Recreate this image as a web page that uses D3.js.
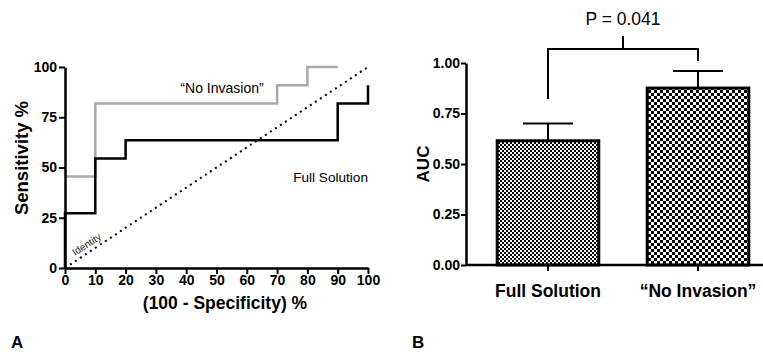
<!DOCTYPE html>
<html>
<head>
<meta charset="utf-8">
<script src="https://cdn.jsdelivr.net/npm/d3@7"></script>
<style>
  body { margin: 0; background: #fff; }
  text { font-family: "Liberation Sans", Arial, sans-serif; }
</style>
</head>
<body>
<div id="chart"></div>
<script>
// ROC curves (x = 100 - specificity, y = sensitivity)
var fullX = [0, 0, 10, 10, 20, 20, 90, 90, 100, 100];
var fullY = [0, 27.3, 27.3, 54.5, 54.5, 63.6, 63.6, 81.8, 81.8, 90.9];
var noInvX = [0, 10, 10, 70, 70, 80, 80, 90];
var noInvY = [45.5, 45.5, 81.8, 81.8, 90.9, 90.9, 100, 100];
var rocTicks = [0, 10, 20, 30, 40, 50, 60, 70, 80, 90, 100];
var sensTicks = [0, 25, 50, 75, 100];

// AUC bars
var groups = ["Full Solution", "\u201cNo Invasion\u201d"];
var auc = [0.615, 0.876];
var aucErr = [0.085, 0.085];
var aucTicks = [0, 0.25, 0.5, 0.75, 1.0];

var svg = d3.select("#chart").append("svg")
  .attr("width", 763)
  .attr("height", 360);

var defs = svg.append("defs");
function checker(id, s) {
  var p = defs.append("pattern")
    .attr("id", id)
    .attr("patternUnits", "userSpaceOnUse")
    .attr("width", s * 2)
    .attr("height", s * 2);
  p.append("rect").attr("width", s * 2).attr("height", s * 2).attr("fill", "#fff");
  p.append("rect").attr("width", s).attr("height", s).attr("fill", "#000");
  p.append("rect").attr("x", s).attr("y", s).attr("width", s).attr("height", s).attr("fill", "#000");
}
checker("fine", 2);
checker("coarse", 3);

// ---------- panel A ----------
var x = d3.scaleLinear().domain([0, 100]).range([65, 368]);
var y = d3.scaleLinear().domain([0, 100]).range([268, 67]);

var line = d3.line().x(d => x(d[0])).y(d => y(d[1]));

svg.append("path")
  .datum(d3.zip(noInvX, noInvY))
  .attr("d", line)
  .attr("fill", "none")
  .attr("stroke", "#aaaaaa")
  .attr("stroke-width", 2.5);

svg.append("path")
  .datum(d3.zip(fullX, fullY))
  .attr("d", line)
  .attr("fill", "none")
  .attr("stroke", "#000")
  .attr("stroke-width", 2.5);

svg.append("line")
  .attr("x1", x(0)).attr("y1", y(0))
  .attr("x2", x(100)).attr("y2", y(100))
  .attr("stroke", "#000")
  .attr("stroke-width", 2)
  .attr("stroke-dasharray", "2,4");

var xAxisA = svg.append("g")
  .attr("transform", `translate(0,${y(0)})`)
  .call(d3.axisBottom(x).tickValues(rocTicks).tickSize(6).tickPadding(1).tickSizeOuter(0));
var yAxisA = svg.append("g")
  .attr("transform", `translate(${x(0)},0)`)
  .call(d3.axisLeft(y).tickValues(sensTicks).tickSize(6).tickPadding(2).tickSizeOuter(0));

[xAxisA, yAxisA].forEach(function(g) {
  g.select(".domain").attr("stroke-width", 2.5);
  g.selectAll(".tick line").attr("stroke-width", 2);
  g.selectAll(".tick text")
    .attr("font-size", 14)
    .attr("font-weight", "bold")
    .attr("fill", "#000");
});

svg.append("text")
  .attr("transform", "translate(75,256) rotate(-33)")
  .attr("font-size", 10)
  .attr("fill", "#222")
  .text("Identity");

svg.append("text")
  .attr("x", 222).attr("y", 93)
  .attr("text-anchor", "middle")
  .attr("font-size", 14)
  .text("\u201cNo Invasion\u201d");

svg.append("text")
  .attr("x", 368).attr("y", 182)
  .attr("text-anchor", "end")
  .attr("font-size", 13.6)
  .text("Full Solution");

svg.append("text")
  .attr("transform", "translate(28,158) rotate(-90)")
  .attr("text-anchor", "middle")
  .attr("font-size", 18.5)
  .attr("font-weight", "bold")
  .text("Sensitivity %");

svg.append("text")
  .attr("x", 225).attr("y", 309)
  .attr("text-anchor", "middle")
  .attr("font-size", 17.5)
  .attr("font-weight", "bold")
  .text("(100 - Specificity) %");

svg.append("text")
  .attr("x", 11).attr("y", 348)
  .attr("font-size", 17)
  .attr("font-weight", "bold")
  .text("A");

// ---------- panel B ----------
var xb = d3.scaleBand().domain(groups).range([466, 780]).paddingInner(0.323).paddingOuter(0.208);
var yb = d3.scaleLinear().domain([0, 1]).range([265, 63]);

var fills = ["url(#fine)", "url(#coarse)"];

groups.forEach(function(g, i) {
  var cx = xb(g) + xb.bandwidth() / 2;
  svg.append("line")
    .attr("x1", cx).attr("x2", cx)
    .attr("y1", yb(auc[i])).attr("y2", yb(auc[i] + aucErr[i]))
    .attr("stroke", "#000").attr("stroke-width", 2);
  svg.append("line")
    .attr("x1", cx - 25).attr("x2", cx + 25)
    .attr("y1", yb(auc[i] + aucErr[i])).attr("y2", yb(auc[i] + aucErr[i]))
    .attr("stroke", "#000").attr("stroke-width", 2);
});

svg.selectAll("rect.bar")
  .data(auc)
  .enter()
  .append("rect")
  .attr("class", "bar")
  .attr("x", (d, i) => xb(groups[i]))
  .attr("y", d => yb(d))
  .attr("width", xb.bandwidth())
  .attr("height", d => yb(0) - yb(d))
  .attr("fill", (d, i) => fills[i])
  .attr("stroke", "#000")
  .attr("stroke-width", 3);

var xAxisB = svg.append("g")
  .attr("transform", `translate(0,${yb(0)})`)
  .call(d3.axisBottom(xb).tickSize(6).tickPadding(14).tickSizeOuter(0));
xAxisB.select(".domain").attr("d", "M466,0H763");
var yAxisB = svg.append("g")
  .attr("transform", "translate(466,0)")
  .call(d3.axisLeft(yb).tickValues(aucTicks).tickFormat(d3.format(".2f")).tickSize(5).tickPadding(1).tickSizeOuter(0));

[xAxisB, yAxisB].forEach(function(g) {
  g.select(".domain").attr("stroke-width", 2.5);
  g.selectAll(".tick line").attr("stroke-width", 2);
  g.selectAll(".tick text")
    .attr("font-size", 14)
    .attr("font-weight", "bold")
    .attr("fill", "#000");
});
xAxisB.selectAll(".tick text").attr("font-size", 17.5);

svg.append("text")
  .attr("transform", `translate(429,${yb(0.5)}) rotate(-90)`)
  .attr("text-anchor", "middle")
  .attr("font-size", 17)
  .attr("font-weight", "bold")
  .text("AUC");

// significance bracket
var c0 = xb(groups[0]) + xb.bandwidth() / 2;
var c1 = xb(groups[1]) + xb.bandwidth() / 2;
var bracketY = 49;
svg.append("path")
  .attr("d", `M${c0},99V${bracketY}H${c1}V61M${(c0 + c1) / 2},${bracketY}V36`)
  .attr("fill", "none")
  .attr("stroke", "#000")
  .attr("stroke-width", 2);

svg.append("text")
  .attr("x", (c0 + c1) / 2).attr("y", 25)
  .attr("text-anchor", "middle")
  .attr("font-size", 17.5)
  .text("P = 0.041");

svg.append("text")
  .attr("x", 412).attr("y", 348)
  .attr("font-size", 17)
  .attr("font-weight", "bold")
  .text("B");
</script>
</body>
</html>
